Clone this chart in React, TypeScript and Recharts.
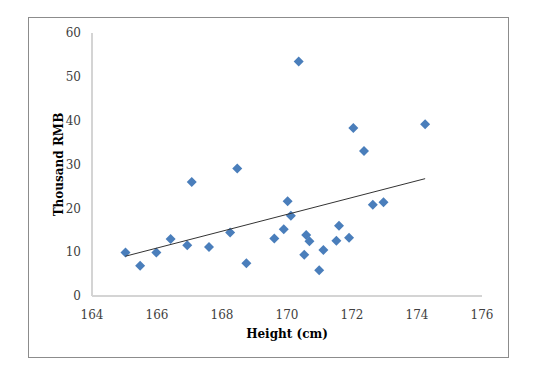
import React from "react";
import { ScatterChart, Scatter, XAxis, YAxis } from "recharts";

const heights = [
  165.03, 165.48, 165.98, 166.42, 166.93, 167.07, 167.6, 168.25, 168.47, 168.75,
  169.61, 169.9, 170.02, 170.12, 170.36, 170.53, 170.59, 170.69, 170.99, 171.12,
  171.52, 171.6, 171.91, 172.04, 172.37, 172.64, 172.97, 174.25,
];
const incomes = [
  9.9, 6.9, 9.9, 13.0, 11.6, 26.0, 11.2, 14.5, 29.1, 7.5,
  13.1, 15.2, 21.6, 18.3, 53.5, 9.4, 13.9, 12.5, 5.9, 10.5,
  12.6, 16.0, 13.3, 38.3, 33.1, 20.8, 21.4, 39.2,
];
const xTicks = [164, 166, 168, 170, 172, 174, 176];
const yTicks = [0, 10, 20, 30, 40, 50, 60];

const points = heights.map((h, i) => ({ x: h, y: incomes[i] }));

// linear trendline (least squares), spanning the data's x range
function trendline() {
  const n = heights.length;
  const mx = heights.reduce((a, b) => a + b, 0) / n;
  const my = incomes.reduce((a, b) => a + b, 0) / n;
  let sxy = 0;
  let sxx = 0;
  heights.forEach((h, i) => {
    sxy += (h - mx) * (incomes[i] - my);
    sxx += (h - mx) * (h - mx);
  });
  const slope = sxy / sxx;
  const x0 = Math.min(...heights);
  const x1 = Math.max(...heights);
  return [
    { x: x0, y: my + slope * (x0 - mx) },
    { x: x1, y: my + slope * (x1 - mx) },
  ];
}

const Diamond = (props: any) => {
  const { cx, cy } = props;
  const r = 5;
  return (
    <path
      d={`M${cx},${cy - r}L${cx + r},${cy}L${cx},${cy + r}L${cx - r},${cy}Z`}
      fill="#4a7ebb"
    />
  );
};

const font = "'DejaVu Serif', serif";
const tickStyle = { fill: "#404040", fontSize: 12, fontFamily: font };

export default function App() {
  return (
    <div style={{ position: "relative", width: 550, height: 368, margin: -8, background: "#fff" }}>
      <div
        style={{
          position: "absolute",
          left: 28,
          top: 17,
          width: 479,
          height: 339,
          border: "1px solid #8c8c8c",
        }}
      />
      <div style={{ position: "absolute", left: 0, top: 0 }}>
        <ScatterChart width={550} height={368} margin={{ top: 33, right: 68, bottom: 42, left: 32 }}>
          <XAxis
            type="number"
            dataKey="x"
            domain={[164, 176]}
            ticks={xTicks}
            tickLine={false}
            tickMargin={8}
            axisLine={{ stroke: "#d4d4d4", strokeWidth: 2 }}
            tick={tickStyle}
            height={30}
            label={{
              value: "Height (cm)",
              position: "insideBottom",
              offset: -12,
              style: { fontFamily: font, fontWeight: "bold", fontSize: 12, fill: "#000" },
            }}
          />
          <YAxis
            type="number"
            dataKey="y"
            domain={[0, 60]}
            ticks={yTicks}
            tickLine={false}
            tickMargin={5}
            axisLine={{ stroke: "#d4d4d4", strokeWidth: 2 }}
            tick={tickStyle}
            width={60}
            label={{
              value: "Thousand RMB",
              angle: -90,
              position: "insideLeft",
              offset: 27,
              style: { textAnchor: "middle", fontFamily: font, fontWeight: "bold", fontSize: 12, fill: "#000" },
            }}
          />
          <Scatter data={points} shape={Diamond} isAnimationActive={false} />
          <Scatter
            data={trendline()}
            line={{ stroke: "#333", strokeWidth: 1 }}
            shape={() => null}
            isAnimationActive={false}
          />
        </ScatterChart>
      </div>
    </div>
  );
}
